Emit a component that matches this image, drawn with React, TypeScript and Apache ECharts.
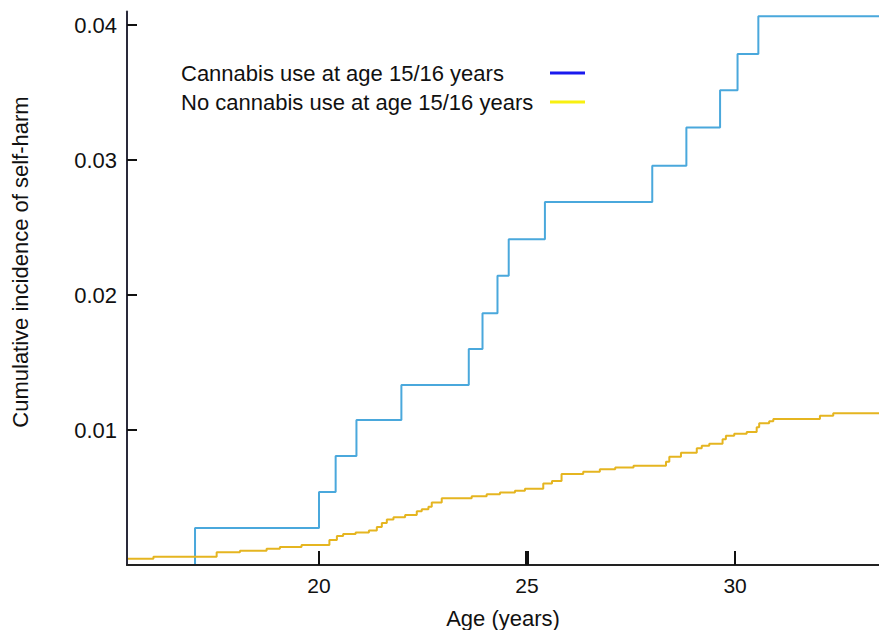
import React, { useEffect, useRef } from "react";
import * as echarts from "echarts";

const X_MIN = 15.385;
const X_MAX = 33.46;
const Y_MAX = 0.041;

const xTickValues = [20, 25, 30];
const yTickValues = [0.01, 0.02, 0.03, 0.04];

const seriesNames = [
  "Cannabis use at age 15/16 years",
  "No cannabis use at age 15/16 years",
];

// Cannabis use: step change ages and cumulative incidence after each step
const cannabisAges = [15.385, 17.02, 20.0, 20.4, 20.9, 21.98, 23.6, 23.93, 24.29, 24.56, 25.43, 28.01, 28.83, 29.64, 30.06, 30.56, 33.46];
const cannabisValues = [0, 0.00274, 0.0054, 0.00807, 0.01074, 0.01333, 0.016, 0.01864, 0.02143, 0.02413, 0.02689, 0.02958, 0.0324, 0.03516, 0.03785, 0.04064, 0.04064];

// No cannabis use
const noCannabisAges = [15.385, 16.02, 17.54, 18.1, 18.74, 19.06, 19.58, 20.25, 20.43, 20.58, 20.88, 21.2, 21.39, 21.51, 21.63, 21.79, 22.07, 22.35, 22.47, 22.63, 22.71, 22.95, 23.67, 24.03, 24.35, 24.71, 24.95, 25.39, 25.6, 25.83, 26.35, 26.75, 27.12, 27.56, 28.34, 28.42, 28.7, 29.08, 29.2, 29.38, 29.7, 29.78, 29.98, 30.28, 30.52, 30.58, 30.82, 30.92, 32.04, 32.36, 33.46];
const noCannabisValues = [0.00047, 0.00061, 0.00094, 0.00106, 0.00121, 0.00133, 0.00148, 0.00185, 0.00215, 0.0023, 0.00241, 0.00256, 0.00281, 0.00311, 0.00337, 0.00353, 0.0037, 0.00398, 0.00413, 0.00432, 0.00463, 0.00494, 0.00509, 0.00524, 0.00537, 0.0055, 0.00564, 0.00603, 0.00622, 0.00674, 0.00691, 0.00709, 0.00722, 0.00736, 0.00765, 0.00802, 0.00832, 0.00864, 0.00884, 0.00899, 0.00931, 0.00958, 0.00973, 0.00985, 0.0102, 0.0105, 0.01064, 0.01081, 0.01106, 0.01124, 0.01124];

const FONT = "Liberation Sans, Arial, Helvetica, sans-serif";

export default function App() {
  const ref = useRef<HTMLDivElement>(null);

  useEffect(() => {
    if (!ref.current) return;
    const chart = echarts.init(ref.current, null, { renderer: "svg" });
    const zip = (a: number[], b: number[]) => a.map((v, i) => [v, b[i]]);

    chart.setOption({
      animation: false,
      backgroundColor: "#ffffff",
      grid: {
        left: 127,
        right: 0,
        top: 565 - Y_MAX * 13500,
        bottom: 65,
        containLabel: false,
        outerBoundsMode: "none",
      },
      legend: {
        orient: "vertical",
        left: 176,
        top: 57,
        align: "right",
        itemWidth: 35,
        itemHeight: 3,
        itemGap: 7,
        selectedMode: false,
        formatter: "{a|{name}}",
        textStyle: {
          fontFamily: FONT,
          fontSize: 22,
          color: "#111",
          width: 364,
          lineHeight: 22,
          rich: { a: { align: "left", fontFamily: FONT, fontSize: 22, color: "#111", lineHeight: 22 } },
        },
        data: [
          { name: seriesNames[0], icon: "rect", itemStyle: { color: "#1a1aee" } },
          { name: seriesNames[1], icon: "rect", itemStyle: { color: "#f8f010" } },
        ],
      },
      xAxis: [
        {
          type: "value",
          min: X_MIN,
          max: X_MAX,
          z: 10,
          name: "Age (years)",
          nameLocation: "middle",
          nameGap: 42,
          nameTextStyle: { fontFamily: FONT, fontSize: 22, color: "#111" },
          splitLine: { show: false },
          axisLine: { show: true, lineStyle: { color: "#222", width: 2 } },
          axisTick: { show: true, inside: true, length: 14, customValues: xTickValues, lineStyle: { color: "#111", width: 2 } },
          axisLabel: { show: true, customValues: xTickValues, margin: 10, fontFamily: FONT, fontSize: 21, color: "#111" },
        },
        {
          type: "value",
          min: X_MIN,
          max: X_MAX,
          position: "bottom",
          z: 10,
          splitLine: { show: false },
          axisLine: { show: false },
          axisTick: { show: true, inside: true, length: 14, customValues: [25], lineStyle: { color: "#111", width: 4 } },
          axisLabel: { show: false },
        },
      ],
      yAxis: {
        type: "value",
        min: 0,
        max: Y_MAX,
        z: 10,
        splitLine: { show: false },
        axisLine: { show: true, lineStyle: { color: "#2a2a3a", width: 2 } },
        axisTick: { show: true, inside: true, length: 10, customValues: yTickValues, lineStyle: { color: "#111", width: 2 } },
        axisLabel: {
          show: true,
          customValues: yTickValues,
          margin: 10,
          fontFamily: FONT,
          fontSize: 22,
          color: "#111",
          formatter: (v: number) => v.toFixed(2),
        },
      },
      graphic: [
        {
          type: "text",
          x: 20,
          y: 262,
          rotation: Math.PI / 2,
          style: {
            text: "Cumulative incidence of self-harm",
            fontFamily: FONT,
            fontSize: 22,
            fill: "#111",
            textAlign: "center",
            textVerticalAlign: "middle",
          },
        },
      ],
      series: [
        {
          name: seriesNames[0],
          type: "line",
          step: "end",
          symbol: "none",
          clip: false,
          data: zip(cannabisAges, cannabisValues),
          lineStyle: { color: "#4aa8dc", width: 2 },
          itemStyle: { color: "#4aa8dc" },
          z: 3,
        },
        {
          name: seriesNames[1],
          type: "line",
          step: "end",
          symbol: "none",
          clip: false,
          data: zip(noCannabisAges, noCannabisValues),
          lineStyle: { color: "#e5b520", width: 2 },
          itemStyle: { color: "#e5b520" },
          z: 3,
        },
      ],
    });

    return () => chart.dispose();
  }, []);

  return (
    <div
      ref={ref}
      style={{ position: "fixed", left: 0, top: 0, width: 879, height: 630, background: "#fff" }}
    />
  );
}
